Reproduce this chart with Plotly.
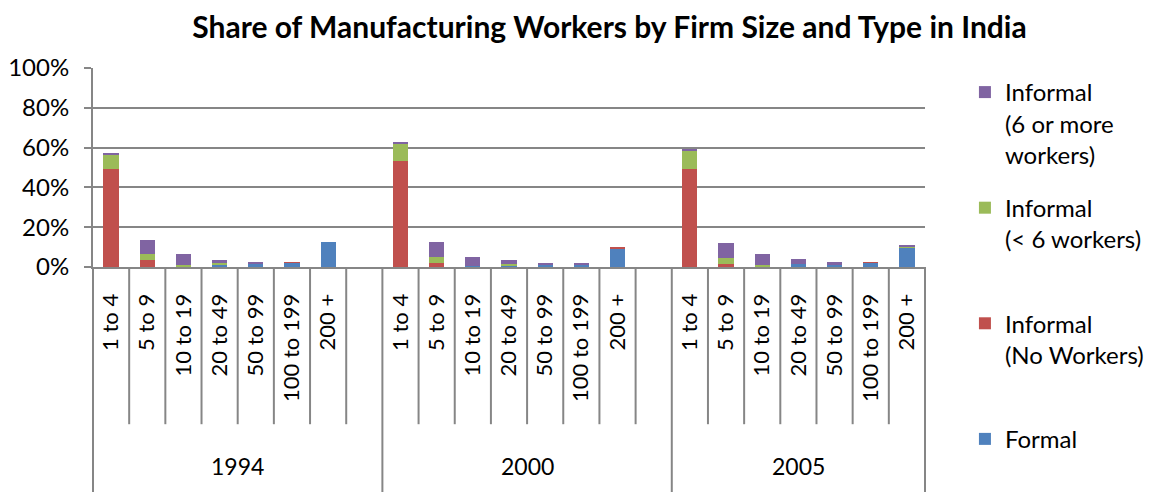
import plotly.graph_objects as go

# Firm-size classes and survey years
sizes = ["1 to 4", "5 to 9", "10 to 19", "20 to 49", "50 to 99", "100 to 199", "200 +"]
years = ["1994", "2000", "2005"]

# Share of manufacturing workers (%), one list per year in size order
formal = {
    "1994": [0.0, 0.0, 0.5, 1.5, 1.7, 2.2, 12.8],
    "2000": [0.0, 0.0, 0.4, 1.0, 1.5, 1.5, 9.2],
    "2005": [0.0, 0.0, 0.5, 1.5, 1.5, 2.2, 10.0],
}
informal_no_workers = {
    "1994": [49.2, 3.5, 0.0, 0.0, 0.0, 0.3, 0.0],
    "2000": [53.2, 2.0, 0.0, 0.0, 0.0, 0.0, 0.4],
    "2005": [49.5, 1.5, 0.0, 0.0, 0.0, 0.3, 0.0],
}
informal_lt6 = {
    "1994": [7.5, 3.0, 0.7, 0.5, 0.0, 0.0, 0.0],
    "2000": [9.0, 3.0, 0.0, 0.5, 0.0, 0.0, 0.0],
    "2005": [9.0, 3.0, 0.5, 0.0, 0.0, 0.0, 0.5],
}
informal_ge6 = {
    "1994": [0.6, 7.2, 5.5, 1.6, 0.8, 0.0, 0.0],
    "2000": [0.5, 7.5, 4.7, 2.0, 0.6, 0.6, 0.0],
    "2005": [0.8, 7.5, 5.5, 2.5, 1.0, 0.0, 0.6],
}

# Stacking order bottom-to-top; legend lists them top-to-bottom
series = [
    ("Formal<br> <br> ", formal, "#4F81BD"),
    ("Informal<br>(No Workers)<br> ", informal_no_workers, "#C0504D"),
    ("Informal<br>(< 6 workers)<br> ", informal_lt6, "#9BBB59"),
    ("Informal<br>(6 or more<br>workers)", informal_ge6, "#8064A2"),
]

FONT = "Lato, 'Open Sans', sans-serif"
GRAY = "#868686"

# Each year occupies len(sizes)+1 slots on a linear axis (one empty spacer slot)
slots_per_group = len(sizes) + 1
n_slots = slots_per_group * len(years) - 1
xpos, xlab = [], []
for g, yr in enumerate(years):
    for c, s in enumerate(sizes):
        xpos.append(g * slots_per_group + c + 0.5)
        xlab.append(s)

fig = go.Figure()
for i, (name, data, color) in enumerate(series):
    vals = [v for yr in years for v in data[yr]]
    fig.add_trace(go.Bar(
        x=xpos, y=vals, name=name, marker_color=color, width=0.42,
        marker_line_width=0, legendgroup=name, legendrank=len(series) - i,
    ))

# Category divider lines and year labels beneath the axis
shapes, annotations = [], []
for g, yr in enumerate(years):
    start = g * slots_per_group
    n_in_group = slots_per_group if g < len(years) - 1 else len(sizes)
    for k in range(1, n_in_group):
        xp = (start + k) / n_slots
        shapes.append(dict(type="line", xref="paper", yref="paper", x0=xp, x1=xp,
                           y0=0, y1=-0.79, line=dict(color=GRAY, width=2)))
    annotations.append(dict(
        text=yr, xref="paper", yref="paper",
        x=(start + n_in_group / 2) / n_slots, y=-1.0, showarrow=False,
        font=dict(family=FONT, size=23, color="#000"), xanchor="center", yanchor="middle",
    ))
for g in range(len(years) + 1):
    xp = min(g * slots_per_group, n_slots) / n_slots
    shapes.append(dict(type="line", xref="paper", yref="paper", x0=xp, x1=xp,
                       y0=0, y1=-1.2, line=dict(color=GRAY, width=2)))

fig.update_layout(
    width=1150, height=492,
    barmode="stack",
    paper_bgcolor="white", plot_bgcolor="white",
    margin=dict(l=93, r=225, t=68, b=225, autoexpand=False),
    title=dict(text="<b>Share of Manufacturing Workers by Firm Size and Type in India</b>",
               x=0.53, xanchor="center", y=0.945, yanchor="middle",
               font=dict(family=FONT, size=30, color="#000")),
    font=dict(family=FONT, size=22, color="#000"),
    xaxis=dict(
        range=[0, n_slots], tickmode="array", tickvals=xpos, ticktext=xlab,
        tickangle=-90, showline=True, linecolor=GRAY, linewidth=2,
        showgrid=False, zeroline=False, ticks="", ticklabelstandoff=16,
        tickfont=dict(family=FONT, size=22, color="#000"),
    ),
    yaxis=dict(
        range=[0, 100], dtick=20, ticksuffix="%", showline=True, linecolor=GRAY,
        linewidth=2, showgrid=True, gridcolor=GRAY, gridwidth=2, zeroline=False,
        ticks="outside", ticklen=7, tickcolor=GRAY, tickwidth=2, ticklabelstandoff=10,
        tickfont=dict(family=FONT, size=24, color="#000"),
    ),
    legend=dict(
        x=1.048, y=0.99, xanchor="left", yanchor="top", traceorder="grouped",
        valign="top", tracegroupgap=19, maxheight=480,
        font=dict(family=FONT, size=24, color="#000"),
    ),
    shapes=shapes, annotations=annotations,
)

fig.write_html("out.html")
